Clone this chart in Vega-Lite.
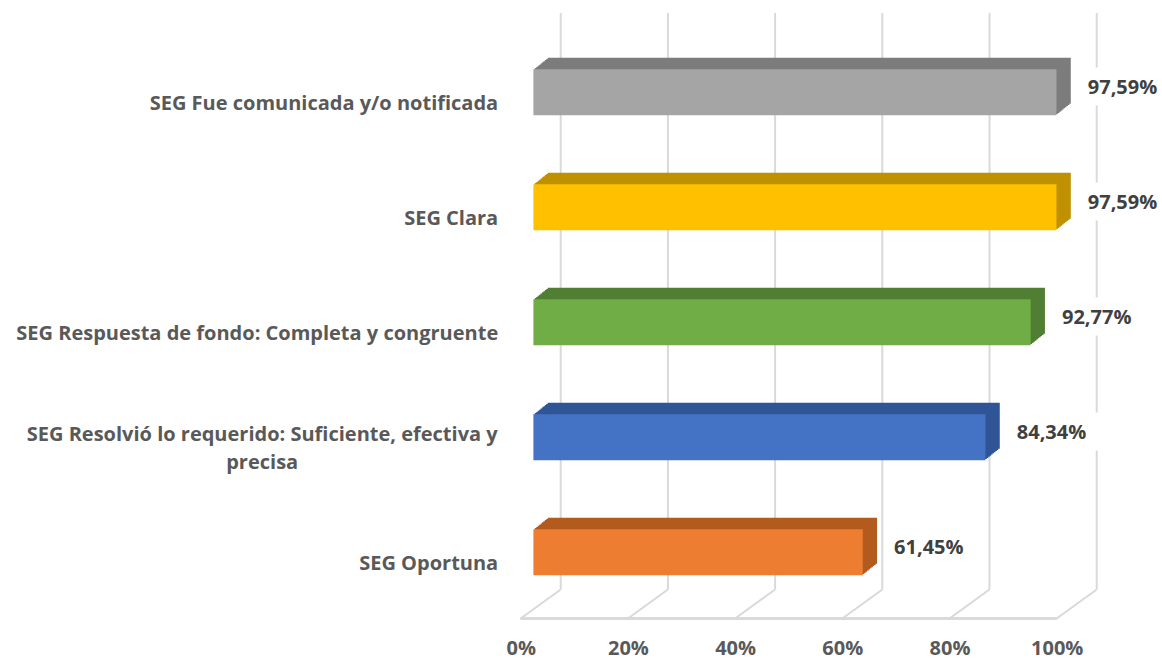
{
  "$schema": "https://vega.github.io/schema/vega-lite/v6.json",
  "autosize": {"type": "none"},
  "width": 536,
  "height": 575,
  "padding": {"left": 540.7, "top": 29, "right": 85.3, "bottom": 55},
  "background": "white",
  "config": {"view": {"stroke": null}},
  "datasets": {
    "ticks": [{"t": 0}, {"t": 20}, {"t": 40}, {"t": 60}, {"t": 80}, {"t": 100}],
    "main": [
      {"cat": "SEG Fue comunicada y/o notificada", "value": 97.59, "label": "97,59%"},
      {"cat": "SEG Clara", "value": 97.59, "label": "97,59%"},
      {"cat": "SEG Respuesta de fondo: Completa y congruente", "value": 92.77, "label": "92,77%"},
      {"cat": "SEG Resolvió lo requerido: Suficiente, efectiva y precisa", "value": 84.34, "label": "84,34%"},
      {"cat": "SEG Oportuna", "value": 61.45, "label": "61,45%"}
    ]
  },
  "layer": [
    {
      "data": {"name": "ticks"},
      "mark": {"type": "rule", "color": "#D9D9D9", "strokeWidth": 2, "xOffset": 20},
      "encoding": {
        "x": {"field": "t", "type": "quantitative", "scale": {"domain": [0, 100], "nice": false},
          "axis": {
            "title": null, "ticks": false, "domain": false, "grid": false, "labelFlush": false, "labelBound": false, "labelOverlap": false,
            "values": [0, 20, 40, 60, 80, 100],
            "labelExpr": "datum.value + '%'",
            "labelFont": "Open Sans", "labelFontSize": 20, "labelFontWeight": "bold", "labelColor": "#595959",
            "labelBaseline": "middle", "labelPadding": 44, "labelOffset": -20
          }},
        "y": {"value": -16},
        "y2": {"value": 560.5}
      }
    },
    {
      "data": {"name": "ticks"},
      "mark": {"type": "rule", "color": "#D9D9D9", "strokeWidth": 2, "xOffset": -20, "x2Offset": 20},
      "encoding": {
        "x": {"field": "t", "type": "quantitative",
          "axis": {
            "title": null, "ticks": false, "domain": false, "grid": false, "labelFlush": false, "labelBound": false, "labelOverlap": false,
            "values": [0, 20, 40, 60, 80, 100],
            "labelExpr": "datum.value + '%'",
            "labelFont": "Open Sans", "labelFontSize": 20, "labelFontWeight": "bold", "labelColor": "#595959",
            "labelBaseline": "middle", "labelPadding": 44, "labelOffset": -20
          }},
        "x2": {"field": "t"},
        "y": {"value": 589.5},
        "y2": {"value": 560.5}
      }
    },
    {
      "data": {"name": "ticks"},
      "mark": {"type": "rule", "color": "#D9D9D9", "strokeWidth": 2, "xOffset": -20, "x2Offset": -20},
      "encoding": {
        "x": {"datum": 0, "type": "quantitative",
          "axis": {
            "title": null, "ticks": false, "domain": false, "grid": false, "labelFlush": false, "labelBound": false, "labelOverlap": false,
            "values": [0, 20, 40, 60, 80, 100],
            "labelExpr": "datum.value + '%'",
            "labelFont": "Open Sans", "labelFontSize": 20, "labelFontWeight": "bold", "labelColor": "#595959",
            "labelBaseline": "middle", "labelPadding": 44, "labelOffset": -20
          }},
        "x2": {"datum": 100},
        "y": {"value": 589.5}
      }
    },
    {
      "data": {"name": "main"},
      "encoding": {
        "y": {
          "field": "cat", "type": "nominal",
          "sort": ["SEG Fue comunicada y/o notificada", "SEG Clara", "SEG Respuesta de fondo: Completa y congruente", "SEG Resolvió lo requerido: Suficiente, efectiva y precisa", "SEG Oportuna"],
          "scale": {"paddingInner": 0, "paddingOuter": 0},
          "axis": {
            "title": null, "ticks": false, "domain": false, "grid": false,
            "labelFont": "Open Sans", "labelFontSize": 20, "labelFontWeight": "bold", "labelColor": "#595959",
            "labelLimit": 600, "labelLineHeight": 28,
            "labelOffset": {"condition": {"test": "indexof(datum.value, 'Resolvi') >= 0", "value": 3}, "value": 17},
            "labelAlign": {"condition": {"test": "indexof(datum.value, 'Resolvi') >= 0", "value": "center"}, "value": "right"},
            "labelPadding": {"condition": {"test": "indexof(datum.value, 'Resolvi') >= 0", "value": 279}, "value": 43},
            "labelExpr": "indexof(datum.value, 'Resolvi') >= 0 ? ['SEG Resolvió lo requerido: Suficiente, efectiva y', 'precisa'] : datum.label"
          }
        },
        "x": {
          "field": "value", "type": "quantitative",
          "scale": {"domain": [0, 100], "nice": false},
          "axis": {
            "title": null, "ticks": false, "domain": false, "grid": false, "labelFlush": false, "labelBound": false, "labelOverlap": false,
            "values": [0, 20, 40, 60, 80, 100],
            "labelExpr": "datum.value + '%'",
            "labelFont": "Open Sans", "labelFontSize": 20, "labelFontWeight": "bold", "labelColor": "#595959",
            "labelBaseline": "middle", "labelPadding": 44, "labelOffset": -20
          }
        }
      },
      "layer": [
        {"mark": {"type": "tick", "orient": "vertical", "color": "white", "opacity": 1, "thickness": 88, "size": 38, "xOffset": 62}},
        {"mark": {"type": "bar", "height": 46, "xOffset": -5.87, "x2Offset": -5.87, "yOffset": 4.6, "y2Offset": 4.6}, "encoding": {"fill": {"field": "cat", "type": "nominal", "legend": null, "scale": {"domain": ["SEG Fue comunicada y/o notificada", "SEG Clara", "SEG Respuesta de fondo: Completa y congruente", "SEG Resolvió lo requerido: Suficiente, efectiva y precisa", "SEG Oportuna"], "range": ["#7C7C7C", "#BF9000", "#507E32", "#2F5597", "#B35A1F"]}}}},
        {"mark": {"type": "bar", "height": 46, "xOffset": -4.44, "x2Offset": -4.44, "yOffset": 3.45, "y2Offset": 3.45}, "encoding": {"fill": {"field": "cat", "type": "nominal", "legend": null}}},
        {"mark": {"type": "bar", "height": 46, "xOffset": -3.01, "x2Offset": -3.01, "yOffset": 2.3, "y2Offset": 2.3}, "encoding": {"fill": {"field": "cat", "type": "nominal", "legend": null}}},
        {"mark": {"type": "bar", "height": 46, "xOffset": -1.58, "x2Offset": -1.58, "yOffset": 1.15, "y2Offset": 1.15}, "encoding": {"fill": {"field": "cat", "type": "nominal", "legend": null}}},
        {"mark": {"type": "bar", "height": 46, "xOffset": -0.15, "x2Offset": -0.15, "yOffset": 0, "y2Offset": 0}, "encoding": {"fill": {"field": "cat", "type": "nominal", "legend": null}}},
        {"mark": {"type": "bar", "height": 46, "xOffset": 1.28, "x2Offset": 1.28, "yOffset": -1.15, "y2Offset": -1.15}, "encoding": {"fill": {"field": "cat", "type": "nominal", "legend": null}}},
        {"mark": {"type": "bar", "height": 46, "xOffset": 2.71, "x2Offset": 2.71, "yOffset": -2.3, "y2Offset": -2.3}, "encoding": {"fill": {"field": "cat", "type": "nominal", "legend": null}}},
        {"mark": {"type": "bar", "height": 46, "xOffset": 4.14, "x2Offset": 4.14, "yOffset": -3.45, "y2Offset": -3.45}, "encoding": {"fill": {"field": "cat", "type": "nominal", "legend": null}}},
        {"mark": {"type": "bar", "height": 46, "xOffset": 5.57, "x2Offset": 5.57, "yOffset": -4.6, "y2Offset": -4.6}, "encoding": {"fill": {"field": "cat", "type": "nominal", "legend": null}}},
        {"mark": {"type": "bar", "height": 46, "xOffset": 7.0, "x2Offset": 7.0, "yOffset": -5.75, "y2Offset": -5.75}, "encoding": {"fill": {"field": "cat", "type": "nominal", "legend": null}}},
        {"mark": {"type": "bar", "height": 46, "xOffset": -7.3, "x2Offset": -7.3, "yOffset": 5.75, "y2Offset": 5.75, "opacity": 1}, "encoding": {"color": {"field": "cat", "type": "nominal", "legend": null, "scale": {"domain": ["SEG Fue comunicada y/o notificada", "SEG Clara", "SEG Respuesta de fondo: Completa y congruente", "SEG Resolvió lo requerido: Suficiente, efectiva y precisa", "SEG Oportuna"], "range": ["#A5A5A5", "#FFC000", "#70AD47", "#4472C4", "#ED7D31"]}}}},
        {"mark": {"type": "text", "align": "left", "baseline": "middle", "xOffset": 24, "yOffset": 1, "font": "Open Sans", "fontSize": 20, "fontWeight": "bold", "color": "#404040"}, "encoding": {"text": {"field": "label"}}}
      ]
    }
  ]
}
